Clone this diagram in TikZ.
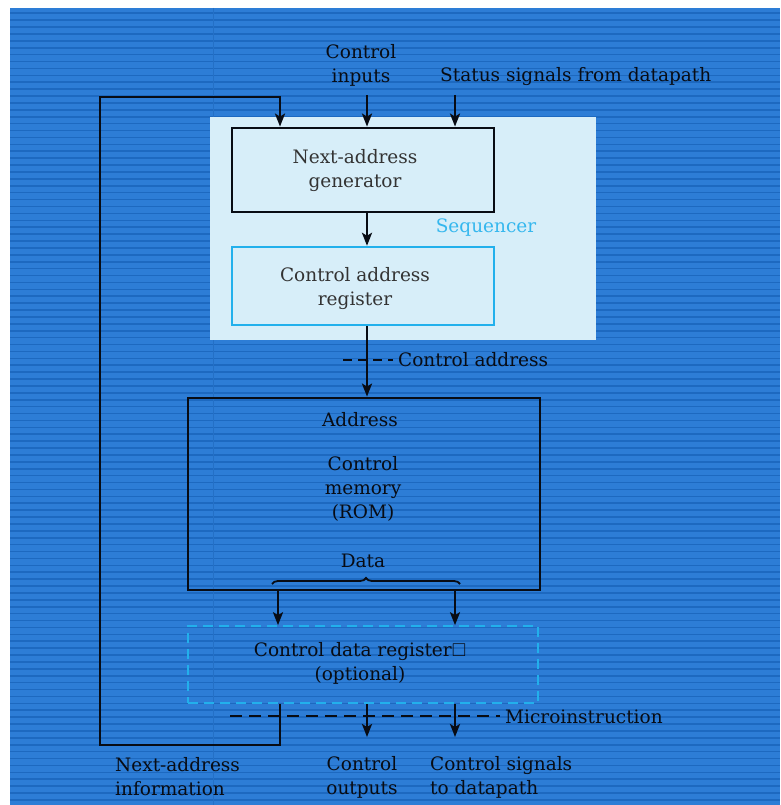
\documentclass[tikz,border=0pt]{standalone}
\usepackage{fontspec}
\usepackage{amssymb}
\setmainfont{DejaVu Serif}
\usetikzlibrary{arrows.meta,decorations.pathreplacing}

\definecolor{bgblue}{HTML}{2D7DD6}
\definecolor{stripe}{HTML}{1D69C0}
\definecolor{vline}{HTML}{2470C6}
\definecolor{panel}{HTML}{D7EEF9}
\definecolor{cyanline}{HTML}{22B0EC}
\definecolor{seqtext}{HTML}{35B7EE}
\definecolor{ink}{HTML}{080C14}
\definecolor{grayink}{HTML}{333333}

\tikzset{
  wire/.style={draw=ink, line width=2.7pt},
  arr/.style={wire, -{Stealth[length=13pt,width=10pt,inset=3pt]}},
  blockbox/.style={rectangle, draw=ink, line width=2.8pt, inner sep=0pt},
  regbox/.style={rectangle, draw=cyanline, line width=2.4pt, inner sep=0pt},
  optbox/.style={rectangle, draw=cyanline, line width=1.6pt,
                 dash pattern=on 10pt off 6pt, inner sep=0pt},
  txt/.style={font=\fontsize{18.5}{24}\selectfont, text=ink, align=center, inner sep=0pt},
  paneltxt/.style={txt, text=grayink},
  tick/.style={draw=ink, line width=2.4pt, dash pattern=on 9pt off 6pt},
}

\begin{document}
\begin{tikzpicture}[x=1pt, y=-1pt]
  \useasboundingbox (0,0) rectangle (780,805);
  % page and striped backdrop
  \fill[white] (0,0) rectangle (780,805);
  \fill[bgblue] (10,8) rectangle (780,805);
  \foreach \k in {0,...,114} {
    \draw[stripe, line width=1.6pt] (10,13.3+6.9*\k) -- (780,13.3+6.9*\k);
  }
  \draw[vline, line width=1pt] (213,8) -- (213,805);

  % sequencer panel
  \fill[panel] (210,117) rectangle (596,340);
  \node[txt, text=seqtext] (seqlbl) at (486,228) {Sequencer};

  % blocks
  \node[blockbox, minimum width=262pt, minimum height=84pt] (nag) at (363,170) {};
  \node[regbox,   minimum width=262pt, minimum height=78pt] (car) at (363,286) {};
  \node[blockbox, minimum width=352pt, minimum height=192pt] (mem) at (364,494) {};
  \node[optbox,   minimum width=350pt, minimum height=77pt] (cdr) at (363,664.5) {};

  % block texts
  \node[paneltxt] (nagtxt) at (355,171) {Next-address\\generator};
  \node[paneltxt] (cartxt) at (355,289) {Control address\\register};
  \node[txt] (addr) at (360,420) {Address};
  \node[txt] (memtxt) at (363,488.5) {Control\\memory\\(ROM)};
  \node[txt] (data) at (363,561) {Data};
  \node[txt] (cdrtxt) at (360,663) {Control data register$\square$\\(optional)};

  % inputs on top
  \node[txt] (cin) at (361,65) {Control\\inputs};
  \node[txt, anchor=west] (stat) at (440,77) {Status signals from datapath};

  % reference columns
  \coordinate (cA) at (280,0);
  \coordinate (cB) at (367,0);
  \coordinate (cC) at (455,0);
  \coordinate (top) at (0,95);
  \coordinate (lb) at (100,745);
  \coordinate (lt) at (100,97);

  \draw[arr] (cB |- top) -- (nag.north -| cB);
  \draw[arr] (cC |- top) -- (nag.north -| cC);
  \draw[arr] (nag.south -| cB) -- (car.north -| cB);
  \draw[arr] (car.south -| cB) -- (mem.north -| cB);

  % control address bus marker
  \coordinate (ca1) at (343,360);
  \coordinate (ca2) at (393,360);
  \draw[tick] (ca1) -- (ca2);
  \node[txt, anchor=west] (catxt) at (398,360) {Control address};

  % data brace and outputs of the memory
  \draw[draw=ink, line width=1.8pt, decorate, decoration={brace, amplitude=6pt}]
    (272,584) -- (460,584);
  \coordinate (dA) at (278,0);
  \draw[arr] (mem.south -| dA) -- (cdr.north -| dA);
  \draw[arr] (mem.south -| cC) -- (cdr.north -| cC);

  % microinstruction bus marker
  \coordinate (mi1) at (230,716);
  \coordinate (mi2) at (500,716);
  \draw[tick, dash pattern=on 12pt off 7pt] (mi1) -- (mi2);
  \node[txt, anchor=west] (mitxt) at (505,717) {Microinstruction};

  % outputs
  \coordinate (bot) at (0,737);
  \draw[arr] (cdr.south -| cB) -- (cB |- bot);
  \draw[arr] (cdr.south -| cC) -- (cC |- bot);

  % next-address feedback loop
  \draw[arr] (cdr.south -| cA) |- (lb) -- (lt) -| (nag.north -| cA);

  % bottom labels
  \node[txt, anchor=west, align=left] (natxt) at (115,777) {Next-address\\information};
  \node[txt] (cotxt) at (362,777) {Control\\outputs};
  \node[txt, anchor=west, align=left] (cstxt) at (430,777) {Control signals\\to datapath};
\end{tikzpicture}
\end{document}
